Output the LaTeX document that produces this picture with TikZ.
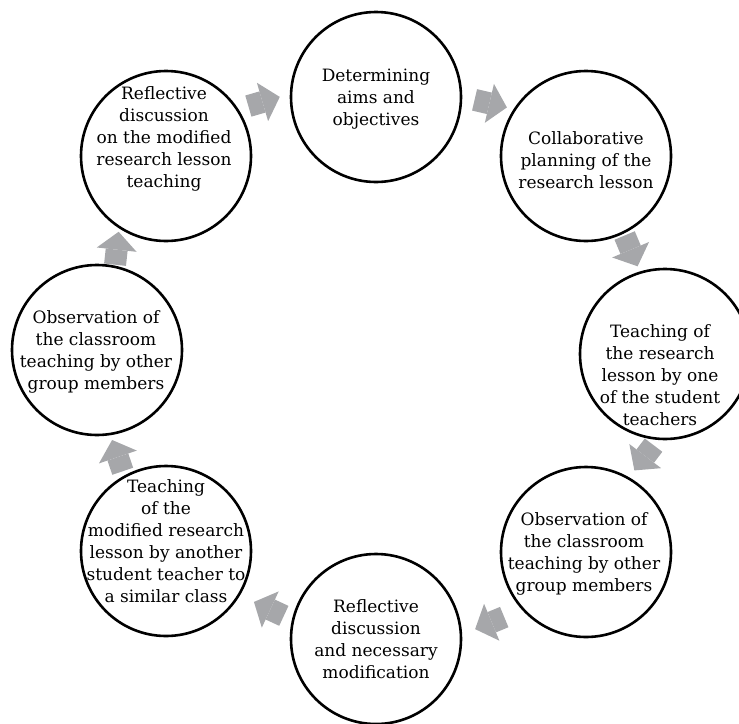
\documentclass[tikz,border=0pt]{standalone}
\usepackage{fontspec}
\setmainfont{DejaVu Serif}
\usetikzlibrary{arrows.meta}
\definecolor{arrowgray}{HTML}{A6A7AA}

\begin{document}
\begin{tikzpicture}[x=1pt, y=-1pt,
		stage/.style={circle, draw, fill=white, line width=2.6pt, minimum size=170pt, inner sep=0pt},
		txt/.style={align=center, font=\fontsize{17}{22}\selectfont},
		flow/.style={draw=arrowgray, line width=22pt, -{Triangle[width=40pt, length=18pt, line width=0pt]}}]
		\useasboundingbox (0, 0) rectangle (739, 723);

		\node[stage] (aims) at (376, 97) {};
		\draw ([shift={(0, 2)}]aims) node[txt] (aimstxt) {Determining\\aims and\\objectives};

		\node[stage] (plan) at (586, 156) {};
		\draw ([shift={(0, 4)}]plan) node[txt] (plantxt) {Collaborative\\planning of the\\research lesson};

		\node[stage] (teach) at (665, 354) {};
		\draw ([shift={(-5, 21)}]teach) node[txt] (teachtxt) {Teaching of\\the research\\lesson by one\\of the student\\teachers};

		\node[stage] (obs) at (586, 552) {};
		\draw ([shift={(-2, 2)}]obs) node[txt] (obstxt) {Observation of\\the classroom\\teaching by other\\group members};

		\node[stage] (reflect) at (376, 639) {};
		\draw (reflect) node[txt] (reflecttxt) {Reflective\\discussion\\and necessary\\modification};

		\node[stage] (reteach) at (166, 551) {};
		\draw ([shift={(0, -10)}]reteach) node[txt] (reteachtxt) {Teaching\\of the\\modified research\\lesson by another\\student teacher to\\a similar class};

		\node[stage] (reobs) at (97, 350) {};
		\draw ([shift={(-1, 2)}]reobs) node[txt] (reobstxt) {Observation of\\the classroom\\teaching by other\\group members};

		\node[stage] (rereflect) at (166, 156) {};
		\draw ([shift={(-2, -17)}]rereflect) node[txt] (rereflecttxt) {Reflective\\discussion\\on the modified\\research lesson\\teaching};

		\draw[flow, shorten <=10.4pt, shorten >=10.4pt] (rereflect.33.5) -- (aims.178.9);
		\draw[flow, shorten <=12.6pt, shorten >=6.9pt] (aims.-0.3) -- (plan.147.8);
		\draw[flow, shorten <=2.1pt, shorten >=5.6pt] (plan.-64.6) -- (teach.107);
		\draw[flow, shorten <=6.5pt, shorten >=8.6pt] (teach.265.2) -- (obs.60.3);
		\draw[flow, shorten <=19.1pt, shorten >=14pt] (obs.222.3) -- (reflect.3.3);
		\draw[flow, shorten <=8.9pt, shorten >=15.4pt] (reflect.167.3) -- (reteach.-31.4);
		\draw[flow, shorten <=4.5pt, shorten >=5pt] (reteach.119.2) -- (reobs.-81.7);
		\draw[flow, shorten <=0.9pt, shorten >=3.4pt] (reobs.78.4) -- (rereflect.237.1);
	\end{tikzpicture}
\end{document}
